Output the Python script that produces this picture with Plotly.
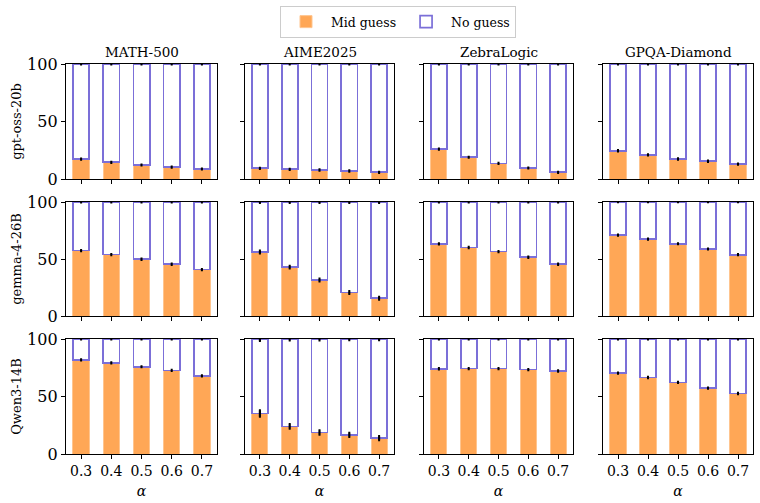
import plotly.graph_objects as go
from plotly.subplots import make_subplots

alphas = ["0.3", "0.4", "0.5", "0.6", "0.7"]
datasets = ["MATH-500", "AIME2025", "ZebraLogic", "GPQA-Diamond"]
models = ["gpt-oss-20b", "gemma-4-26B", "Qwen3-14B"]

# Mid guess percentages (No guess = 100 - Mid guess)
gpt_math = [17.3, 14.5, 12.2, 10.3, 8.7]
gpt_aime = [9.3, 8.4, 7.8, 7.0, 5.8]
gpt_zebra = [26.0, 18.9, 13.6, 9.6, 5.8]
gpt_gpqa = [24.6, 21.0, 17.4, 15.4, 13.0]

gem_math = [57.4, 53.9, 49.8, 45.4, 40.7]
gem_aime = [56.1, 42.9, 31.5, 20.6, 15.6]
gem_zebra = [63.3, 60.1, 56.5, 51.5, 45.4]
gem_gpqa = [70.9, 67.4, 63.4, 58.8, 53.8]

qwen_math = [81.8, 79.2, 75.9, 72.7, 67.9]
qwen_aime = [35.2, 24.0, 18.7, 16.6, 13.8]
qwen_zebra = [74.1, 74.3, 74.3, 73.4, 72.2]
qwen_gpqa = [70.3, 66.5, 62.3, 57.3, 52.6]

# error bar half-widths
gpt_err = [0.4, 0.5, 0.4, 0.5]
gem_err = [0.5, 1.2, 0.5, 0.4]
qwen_aime_err = [2.8, 2.0, 1.9, 1.8, 1.7]
qwen_err = [0.4, None, 0.5, 0.5]

mid = [
    [gpt_math, gpt_aime, gpt_zebra, gpt_gpqa],
    [gem_math, gem_aime, gem_zebra, gem_gpqa],
    [qwen_math, qwen_aime, qwen_zebra, qwen_gpqa],
]

def err_for(r, c):
    if r == 0:
        return [gpt_err[c]] * 5
    if r == 1:
        return [gem_err[c]] * 5
    if c == 1:
        return qwen_aime_err
    return [qwen_err[c]] * 5

ORANGE = "#FFA756"
PURPLE = "#7B6FD8"
FONT = "DejaVu Serif"
W, H = 760, 503

fig = make_subplots(rows=3, cols=4)

xdom = [(66, 217), (245, 394), (424, 573), (603, 753)]
ydom = [(64, 179), (202, 316), (339, 454)]

for r in range(3):
    for c in range(4):
        m = mid[r][c]
        e = err_for(r, c)
        nog = [100 - v for v in m]
        show = (r == 0 and c == 0)
        fig.add_trace(go.Bar(
            x=alphas, y=m, name="Mid guess", showlegend=show, legendgroup="mid",
            marker=dict(color=ORANGE, line=dict(color="#FFC58F", width=1)),
            width=0.54,
        ), row=r + 1, col=c + 1)
        fig.add_trace(go.Bar(
            x=alphas, y=nog, name="No guess", showlegend=show, legendgroup="no",
            marker=dict(color="white", line=dict(color=PURPLE, width=1.7)),
            width=0.54,
        ), row=r + 1, col=c + 1)
        # error bars drawn on top of the bars
        fig.add_trace(go.Scatter(
            x=alphas + alphas, y=m + [100] * 5, mode="markers",
            marker=dict(size=1, color="black", opacity=0),
            error_y=dict(type="data", array=e + [v * 0.6 for v in e],
                         color="black", thickness=2.2, width=1),
            showlegend=False, hoverinfo="skip",
        ), row=r + 1, col=c + 1)

for r in range(3):
    for c in range(4):
        idx = r * 4 + c + 1
        xa = "xaxis" if idx == 1 else f"xaxis{idx}"
        ya = "yaxis" if idx == 1 else f"yaxis{idx}"
        x0, x1 = xdom[c]
        y0, y1 = ydom[r]
        fig.layout[xa].update(
            domain=[x0 / W, x1 / W], automargin=False,
            showline=True, mirror=True, linecolor="black", linewidth=1.4,
            ticks="outside", ticklen=4, tickwidth=1.2, tickcolor="black",
            showticklabels=(r == 2), showgrid=False, zeroline=False,
            tickfont=dict(family=FONT, size=14, color="black"),
            range=[-0.5, 4.5], type="category",
        )
        fig.layout[ya].update(
            domain=[1 - y1 / H, 1 - y0 / H], automargin=False,
            showline=True, mirror=True, linecolor="black", linewidth=1.4,
            ticks="outside", ticklen=4, tickwidth=1.2, tickcolor="black",
            showticklabels=(c == 0), showgrid=False, zeroline=False,
            tickvals=[0, 50, 100], range=[0, 100],
            tickfont=dict(family=FONT, size=16, color="black"),
        )
        if r == 2:
            fig.layout[xa].title = dict(text="<i>α</i>", font=dict(family=FONT, size=14, color="black"), standoff=8)
        if c == 0:
            fig.layout[ya].title = dict(text=models[r], font=dict(family=FONT, size=13, color="black"), standoff=2)

for c in range(4):
    x0, x1 = xdom[c]
    fig.add_annotation(
        text=datasets[c], x=(x0 + x1) / 2 / W, y=1 - 52 / H, xref="paper", yref="paper",
        showarrow=False, font=dict(family=FONT, size=13.5, color="black"),
        xanchor="center", yanchor="middle",
    )

fig.update_layout(
    width=W, height=H, margin=dict(l=0, r=0, t=0, b=0),
    barmode="stack",
    plot_bgcolor="white", paper_bgcolor="white",
    font=dict(family=FONT, color="black"),
    legend=dict(
        orientation="h", x=398 / W, y=1 - 6 / H, xanchor="center", yanchor="top",
        bordercolor="#CCCCCC", borderwidth=1, bgcolor="white",
        font=dict(family=FONT, size=12.5, color="black"),
        traceorder="normal", itemwidth=40,
    ),
)

fig.write_html("out.html")
